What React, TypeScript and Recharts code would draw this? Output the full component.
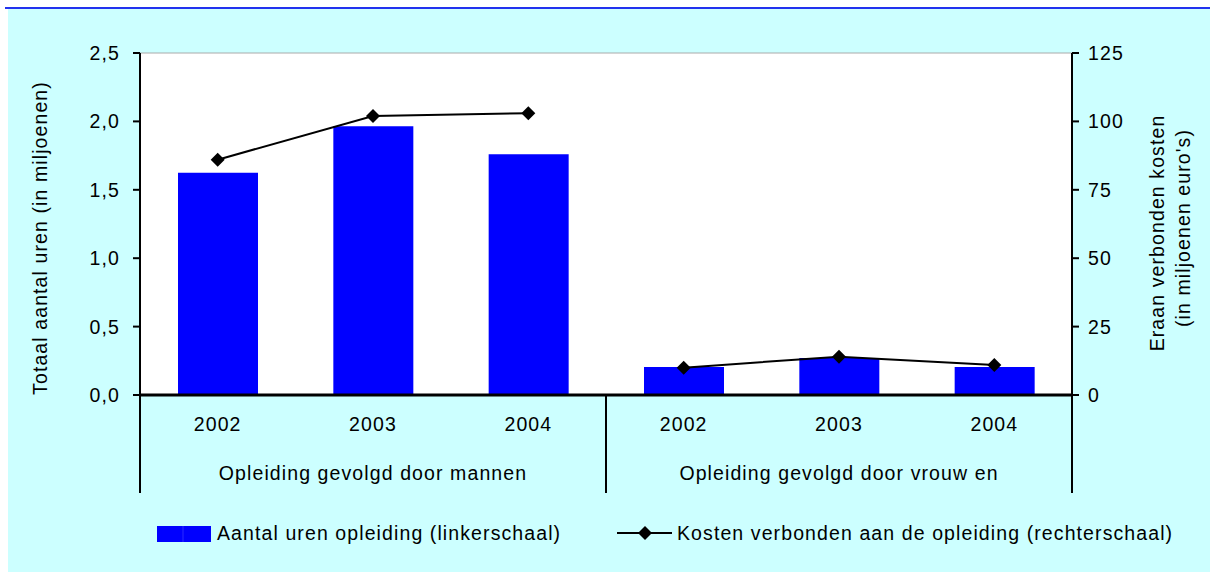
import { ComposedChart, Bar, Line, XAxis, YAxis, CartesianGrid, ReferenceLine } from 'recharts';

const CATEGORIES = ['2002', '2003', '2004', '2002', '2003', '2004'];
const GROUPS = ['Opleiding gevolgd door mannen', 'Opleiding gevolgd door vrouw en'];
const GROUP_SIZE = 3;
const HOURS = [1.625, 1.965, 1.76, 0.205, 0.27, 0.205];
const COSTS_MEN = [86, 102, 103, null, null, null];
const COSTS_WOMEN = [null, null, null, 10, 14, 11];
const LEFT_TICKS = [0, 0.5, 1, 1.5, 2, 2.5];
const RIGHT_TICKS = [0, 25, 50, 75, 100, 125];

const data = CATEGORIES.map((year, i) => ({ year, hours: HOURS[i], men: COSTS_MEN[i], women: COSTS_WOMEN[i] }));

const FONT = '"Liberation Sans", Arial, sans-serif';
const TXT = { fontFamily: FONT, fontSize: 19.5, letterSpacing: 1.1, fill: '#000' };

const Diamond = ({ cx, cy }: any) => {
  if (cx == null || cy == null || isNaN(cy)) return null;
  return <path d={`M${cx},${cy - 7}L${cx + 7},${cy}L${cx},${cy + 7}L${cx - 7},${cy}Z`} fill="#000" />;
};

// second row under the years: group name under the middle year, separators on group edges
const GroupTick = ({ x, y, index, payload, width, visibleTicksCount }: any) => {
  const half = payload?.offset || width / visibleTicksCount / 2;
  const pos = index % GROUP_SIZE;
  const sep = (sx: number) => <line x1={sx} x2={sx} y1={y} y2={y + 97} stroke="#000" strokeWidth={2} />;
  return (
    <g>
      {pos === 0 && sep(x - half)}
      {index === visibleTicksCount - 1 && sep(x + half)}
      {pos === 1 && (
        <text x={x} y={y + 84} textAnchor="middle" {...TXT}>{GROUPS[Math.floor(index / GROUP_SIZE)]}</text>
      )}
    </g>
  );
};

export default function App() {
  return (
    <div style={{ position: 'absolute', left: 0, top: 0, width: 1210, height: 572, background: '#fff', overflow: 'hidden' }}>
      <div style={{ position: 'absolute', left: 5, top: 7, width: 1205, height: 2, background: '#2233ee' }} />
      <div style={{ position: 'absolute', left: 8, top: 9, width: 1202, height: 563, background: '#ccffff' }} />
      <div style={{ position: 'absolute', left: 0, top: 0 }}>
        <ComposedChart width={1210} height={572} data={data} margin={{ top: 53, left: 8, right: 8, bottom: 79 }}>
          <CartesianGrid xAxisId="a" yAxisId="left" horizontal={false} vertical={false} fill="#fff" />
          <XAxis xAxisId="a" dataKey="year" height={1} tickSize={0} tickMargin={22} tickLine={false}
            axisLine={{ stroke: '#000', strokeWidth: 3 }} tick={TXT} interval={0} />
          <XAxis xAxisId="b" dataKey="year" interval={0} height={97}
            tickSize={0} tickMargin={0} axisLine={false} tickLine={false} tick={<GroupTick />} />
          <YAxis yAxisId="left" domain={[0, 2.5]} ticks={LEFT_TICKS} width={132} tickSize={7} tickMargin={13}
            tickFormatter={(v: number) => v.toFixed(1).replace('.', ',')}
            axisLine={{ stroke: '#000', strokeWidth: 2 }} tickLine={{ stroke: '#000', strokeWidth: 2 }} tick={TXT} />
          <YAxis yAxisId="right" orientation="right" domain={[0, 125]} ticks={RIGHT_TICKS} width={130} tickSize={7} tickMargin={9}
            axisLine={{ stroke: '#000', strokeWidth: 2 }} tickLine={{ stroke: '#000', strokeWidth: 2 }} tick={TXT} />
          <ReferenceLine xAxisId="a" yAxisId="left" y={2.5} stroke="#aaa" strokeWidth={1} />
          <Bar xAxisId="a" yAxisId="left" dataKey="hours" fill="#0000ff" barSize={80} isAnimationActive={false} />
          <Line xAxisId="a" yAxisId="right" dataKey="men" stroke="#000" strokeWidth={2} dot={<Diamond />}
            activeDot={false} isAnimationActive={false} legendType="none" />
          <Line xAxisId="a" yAxisId="right" dataKey="women" stroke="#000" strokeWidth={2} dot={<Diamond />}
            activeDot={false} isAnimationActive={false} legendType="none" />
        </ComposedChart>
      </div>
      <svg width={1210} height={572} style={{ position: 'absolute', left: 0, top: 0, pointerEvents: 'none' }}>
        <text transform="translate(40,238) rotate(-90)" textAnchor="middle" dominantBaseline="central" {...TXT}>
          Totaal aantal uren (in miljoenen)
        </text>
        <text transform="translate(1157,233) rotate(-90)" textAnchor="middle" dominantBaseline="central" {...TXT}>
          Eraan verbonden kosten
        </text>
        <text transform="translate(1183,228) rotate(-90)" textAnchor="middle" dominantBaseline="central" {...TXT}>
          (in miljoenen euro's)
        </text>
        <rect x={157} y={526} width={54} height={16} fill="#0000ff" />
        <line x1={183} x2={183} y1={526} y2={542} stroke="#2a2aff" strokeWidth={1} />
        <text x={217} y={533} dominantBaseline="central" {...TXT}>Aantal uren opleiding (linkerschaal)</text>
        <line x1={617} x2={672} y1={533} y2={533} stroke="#000" strokeWidth={2} />
        <path d="M645,526L652,533L645,540L638,533Z" fill="#000" />
        <text x={677} y={533} dominantBaseline="central" {...TXT}>Kosten verbonden aan de opleiding (rechterschaal)</text>
      </svg>
    </div>
  );
}
